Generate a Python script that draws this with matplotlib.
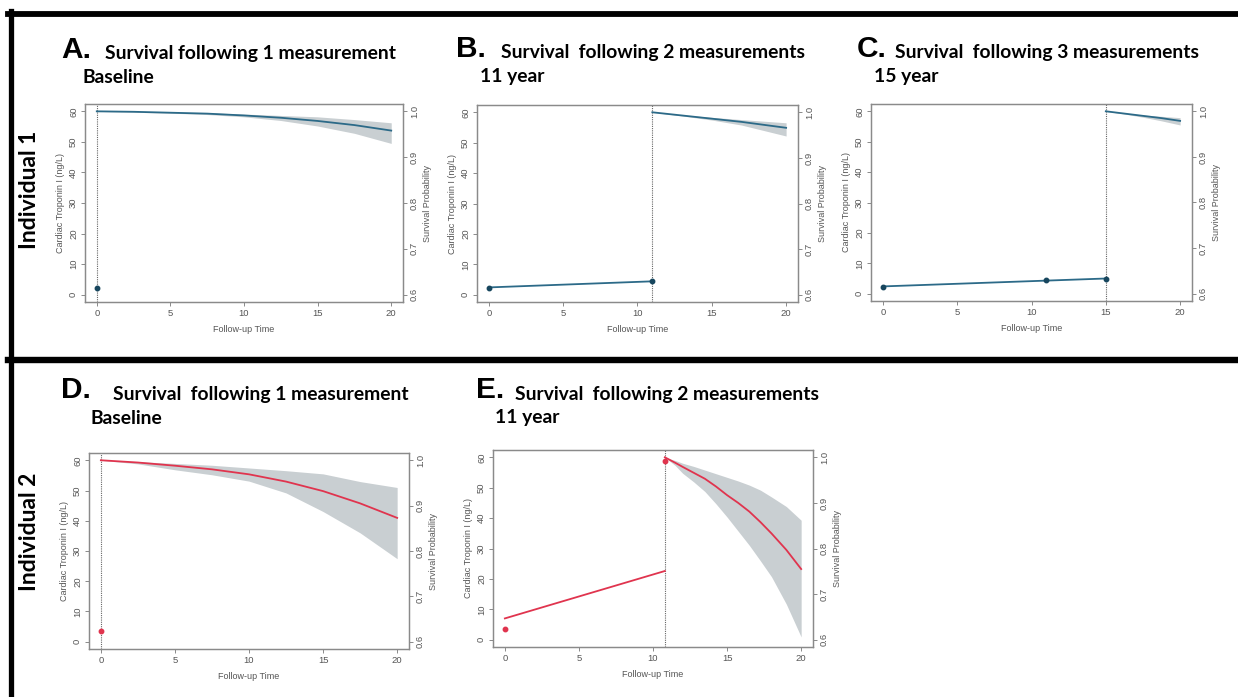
import numpy as np
import matplotlib
matplotlib.use("Agg")
import matplotlib.pyplot as plt
from matplotlib.lines import Line2D

W, H = 1238, 697

ind1_times = [0, 11, 15]
ind1_trop = [2.3, 4.4, 4.7]
ind2_times = [0, 10.8]
ind2_trop = [3.5, 58.7]

# fitted troponin trajectories (start / end)
fitB_t = [0, 11]
fitB_y = [2.4, 4.4]
fitC_t = [0, 15]
fitC_y = [2.4, 5.0]
fitE_t = [0, 10.8]
fitE_y = [7.0, 22.6]

# survival curves + 95% bands
survA_t = [0, 2.5, 5, 7.5, 10, 12.5, 15, 17.5, 20]
survA = [1.000, 0.999, 0.997, 0.995, 0.991, 0.986, 0.979, 0.970, 0.958]
survA_lo = [1.000, 0.998, 0.996, 0.993, 0.988, 0.980, 0.968, 0.952, 0.930]
survA_hi = [1.000, 0.999, 0.998, 0.997, 0.994, 0.991, 0.988, 0.982, 0.975]

survB_t = [11, 13, 15, 17, 20]
survB = [1.000, 0.993, 0.986, 0.979, 0.966]
survB_lo = [1.000, 0.992, 0.983, 0.972, 0.948]
survB_hi = [1.000, 0.994, 0.989, 0.984, 0.977]

survC_t = [15, 16.25, 17.5, 18.75, 20]
survC = [1.000, 0.995, 0.990, 0.985, 0.979]
survC_lo = [1.000, 0.994, 0.987, 0.979, 0.970]
survC_hi = [1.000, 0.996, 0.992, 0.989, 0.986]

survD_t = [0, 2.5, 5, 7.5, 10, 12.5, 15, 17.5, 20]
survD = [1.000, 0.995, 0.988, 0.980, 0.969, 0.953, 0.932, 0.905, 0.873]
survD_lo = [1.000, 0.992, 0.979, 0.968, 0.954, 0.928, 0.887, 0.840, 0.783]
survD_hi = [1.000, 0.997, 0.993, 0.989, 0.983, 0.977, 0.970, 0.953, 0.940]

survE_t = [10.8, 11.5, 12, 12.75, 13.5, 14.25, 15, 15.75, 16.5, 17.25, 18, 19, 20]
survE = [1.000, 0.988, 0.979, 0.966, 0.953, 0.936, 0.917, 0.900, 0.881, 0.858, 0.833, 0.797, 0.755]
survE_lo = [1.000, 0.982, 0.965, 0.946, 0.925, 0.898, 0.869, 0.838, 0.807, 0.773, 0.738, 0.678, 0.606]
survE_hi = [1.000, 0.993, 0.987, 0.980, 0.972, 0.964, 0.956, 0.948, 0.939, 0.928, 0.913, 0.892, 0.862]

xticks = [0, 5, 10, 15, 20]
yticks = [0, 10, 20, 30, 40, 50, 60]
sticks = [0.6, 0.7, 0.8, 0.9, 1.0]

blue = "#2c6a88"
blue_dark = "#17465e"
red = "#e0344e"
band = "#c9cfd2"
axcol = "#8a8a8a"
txtcol = "#555555"

panels = [
    dict(box=(85, 104, 403, 302), letter="A.", title="Survival following 1 measurement", sub="Baseline",
         lpos=(61, 58), tpos=(105, 59), spos=(83, 83), col=blue, mcol=blue_dark,
         mt=ind1_times[:1], my=ind1_trop[:1], ft=None, fy=None, last=0,
         st=survA_t, s=survA, lo=survA_lo, hi=survA_hi),
    dict(box=(477, 105, 798, 302), letter="B.", title="Survival  following 2 measurements", sub="11 year",
         lpos=(456, 57), tpos=(501, 58), spos=(480, 82), col=blue, mcol=blue_dark,
         mt=ind1_times[:2], my=ind1_trop[:2], ft=fitB_t, fy=fitB_y, last=11,
         st=survB_t, s=survB, lo=survB_lo, hi=survB_hi),
    dict(box=(871, 104, 1192, 301), letter="C.", title="Survival  following 3 measurements", sub="15 year",
         lpos=(857, 57), tpos=(895, 58), spos=(874, 82), col=blue, mcol=blue_dark,
         mt=ind1_times, my=ind1_trop, ft=fitC_t, fy=fitC_y, last=15,
         st=survC_t, s=survC, lo=survC_lo, hi=survC_hi),
    dict(box=(89, 453, 409, 649), letter="D.", title="Survival  following 1 measurement", sub="Baseline",
         lpos=(61, 398), tpos=(113, 400), spos=(91, 424), col=red, mcol=red,
         mt=ind2_times[:1], my=ind2_trop[:1], ft=None, fy=None, last=0,
         st=survD_t, s=survD, lo=survD_lo, hi=survD_hi),
    dict(box=(493, 450, 813, 647), letter="E.", title="Survival  following 2 measurements", sub="11 year",
         lpos=(476, 398), tpos=(515, 400), spos=(495, 423), col=red, mcol=red,
         mt=ind2_times, my=ind2_trop, ft=fitE_t, fy=fitE_y, last=10.8,
         st=survE_t, s=survE, lo=survE_lo, hi=survE_hi),
]

plt.rcParams["font.family"] = ["Liberation Sans", "DejaVu Sans"]
fig = plt.figure(figsize=(W / 100, H / 100), dpi=100)
fig.patch.set_facecolor("white")


def fx(x):
    return x / W


def fy_(y):
    return 1 - y / H


# black frame lines
fig.add_artist(Line2D([fx(8), 1], [fy_(13.5), fy_(13.5)], color="black", lw=4.2))
fig.add_artist(Line2D([fx(10.5), fx(10.5)], [fy_(11), 0], color="black", lw=3.8))
fig.add_artist(Line2D([fx(8), 1], [fy_(359.5), fy_(359.5)], color="black", lw=4.6))

fig.text(fx(30), fy_(190), "Individual 1", rotation=90, ha="center", va="center",
         fontsize=16.5, fontweight="bold", family=["Lato", "DejaVu Sans"])
fig.text(fx(30), fy_(532), "Individual 2", rotation=90, ha="center", va="center",
         fontsize=16.5, fontweight="bold", family=["Lato", "DejaVu Sans"])

for p in panels:
    l, t, r, b = p["box"]
    ax = fig.add_axes([fx(l), fy_(b), fx(r - l), (b - t) / H])
    ax.set_xlim(-0.8, 20.8)
    ax.set_ylim(-2.4, 62.4)
    ax.set_xticks(xticks)
    ax.set_yticks(yticks)
    for sp in ax.spines.values():
        sp.set_color(axcol)
        sp.set_linewidth(0.9)
    ax.tick_params(colors=axcol, labelcolor=txtcol, labelsize=6.8, length=3, width=0.7, pad=2)
    plt.setp(ax.get_yticklabels(), rotation=90, va="center")
    ax.set_xlabel("Follow-up Time", fontsize=6.5, color=txtcol, labelpad=5)
    ax.set_ylabel("Cardiac Troponin I (ng/L)", fontsize=6.5, color=txtcol, labelpad=3)

    ax.axvline(p["last"], color="#666666", lw=0.8, ls=(0, (1, 1)))
    if p["ft"] is not None:
        ax.plot(p["ft"], p["fy"], color=p["col"], lw=1.3)
    ax.plot(p["mt"], p["my"], "o", color=p["mcol"], ms=3.2, ls="none")

    ax2 = ax.twinx()
    ax2.set_ylim(0.6 - 2.4 / 150, 1.0 + 2.4 / 150)
    ax2.set_yticks(sticks)
    ax2.set_yticklabels([f"{v:.1f}" for v in sticks])
    for sp in ax2.spines.values():
        sp.set_color(axcol)
        sp.set_linewidth(0.9)
    ax2.tick_params(colors=axcol, labelcolor=txtcol, labelsize=6.8, length=3, width=0.7, pad=2)
    plt.setp(ax2.get_yticklabels(), rotation=90, va="center")
    ax2.set_ylabel("Survival Probability", fontsize=6.5, color=txtcol, labelpad=3)
    ax2.fill_between(p["st"], p["lo"], p["hi"], color=band, lw=0)
    ax2.plot(p["st"], p["s"], color=p["col"], lw=1.3)

    fig.text(fx(p["lpos"][0]), fy_(p["lpos"][1]), p["letter"], fontsize=21.5, fontweight="bold",
             ha="left", va="baseline")
    fig.text(fx(p["tpos"][0]), fy_(p["tpos"][1]), p["title"], fontsize=13.9, fontweight="bold",
             ha="left", va="baseline", family=["Lato", "DejaVu Sans"])
    fig.text(fx(p["spos"][0]), fy_(p["spos"][1]), p["sub"], fontsize=13.9, fontweight="bold",
             ha="left", va="baseline", family=["Lato", "DejaVu Sans"])

fig.savefig("out.png", dpi=100)
